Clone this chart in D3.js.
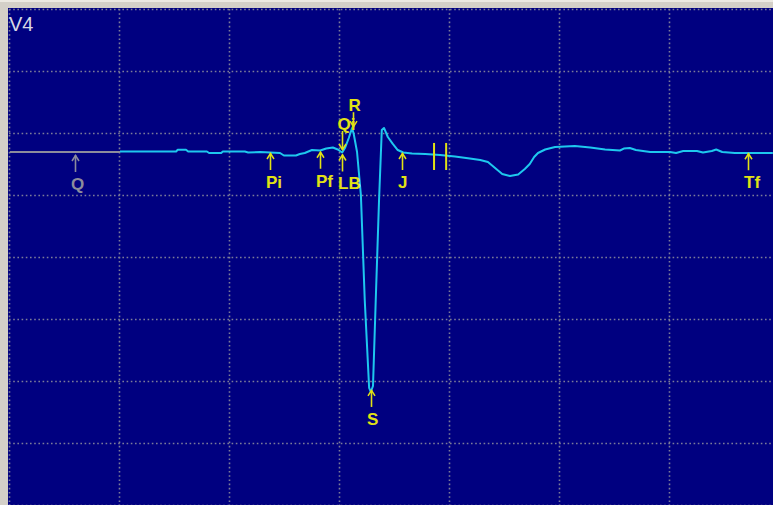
<!DOCTYPE html>
<html><head><meta charset="utf-8">
<script src="https://cdn.jsdelivr.net/npm/d3@7/dist/d3.min.js"></script>
<style>html,body{margin:0;padding:0;background:#d4d0c8;overflow:hidden}</style>
</head><body>
<svg id="chart" width="773" height="505"></svg>
<script>
// ---- data (time in ms, amplitude in mV) ----
const leadName = "V4";
const timeMs = [0,200,200,302,305,320,324,358,362,384,387,427,433,455,491,498,520,527,536,549,564,575,587,596,604,609,616,622,625,631,638,645,653,656,660,665,671,676,680,687,696,705,715,731,755,782,809,836,855,869,882,895,909,924,936,945,953,960,973,991,1009,1027,1055,1082,1109,1116,1127,1138,1164,1200,1211,1224,1249,1260,1276,1284,1295,1318,1387];
const amplitudeMv = [0,0,0.004,0.004,0.018,0.018,0.004,0.004,-0.008,-0.008,0.004,0.004,-0.004,0,-0.008,-0.028,-0.028,-0.016,-0.008,0.016,0.012,0.028,0.036,0.02,-0.004,0.032,0.113,0.194,0.145,0,-0.347,-1.194,-1.903,-1.935,-1.887,-1.194,-0.387,0.177,0.194,0.121,0.065,0.016,-0.004,-0.012,-0.016,-0.024,-0.036,-0.052,-0.065,-0.081,-0.129,-0.177,-0.194,-0.181,-0.137,-0.097,-0.04,-0.008,0.02,0.04,0.044,0.048,0.036,0.02,0.012,0.028,0.032,0.016,0,0,-0.008,0.008,0.008,-0.004,0.008,0.02,0,-0.008,-0.008];
const greySegmentEndMs = 200;

const markerNames = ["Q","Pi","Pf","LB","J","Tf","S","Qi","R"];
const markerTimes = [118,473,564,604,713,1342,656,604,624];
const markerMv    = [-0.024,-0.008,0.002,-0.02,-0.008,-0.01,-1.919,0.016,0.2];
const markerDir   = ["up","up","up","up","up","up","up","down","down"];

const caliperTimes = [771,793];
const caliperRangeMv = [0.073,-0.145];

const gridStepMs = 200;
const gridStepMv = 0.5;

// ---- drawing ----
const W = 773, H = 505;
const svg = d3.select("#chart");
const x = d3.scaleLinear().domain([0, 1387.3]).range([10, 773]);
const y = d3.scaleLinear().domain([-2.85, 1.15]).range([505.4, 9.4]);

const navy = "#000080", cyan = "#1ec8ee", yellow = "#e2e214", grey = "#8c8c9c", gridCol = "#7c7c98";

svg.append("rect").attr("width", W).attr("height", H).attr("fill", "#d4d0c8");
svg.append("rect").attr("x", 0).attr("y", 0).attr("width", W).attr("height", 2).attr("fill", "#ece9e2");
svg.append("rect").attr("x", 8).attr("y", 8).attr("width", W - 8).attr("height", H - 8).attr("fill", navy);

// grid
const vx = d3.range(0, 1387.3, gridStepMs);
const hy = d3.range(1.15, -2.86, -gridStepMv);
const g = svg.append("g");
g.selectAll(".vg").data(vx).join("line")
  .attr("x1", d => Math.round(x(d)) - 0.5).attr("x2", d => Math.round(x(d)) - 0.5)
  .attr("y1", 9).attr("y2", H)
  .attr("stroke", gridCol).attr("stroke-width", 1.6).attr("stroke-dasharray", "1.6,2.6");
g.selectAll(".hg").data(hy).join("line")
  .attr("y1", d => Math.round(y(d)) + 0.5).attr("y2", d => Math.round(y(d)) + 0.5)
  .attr("x1", 9).attr("x2", W)
  .attr("stroke", gridCol).attr("stroke-width", 1.6).attr("stroke-dasharray", "1.6,2.6");

// trace
const pts = timeMs.map((t, i) => [t, amplitudeMv[i]]);
const line = d3.line().x(d => x(d[0])).y(d => y(d[1]));
svg.append("path").datum(pts.filter(p => p[0] <= greySegmentEndMs).slice(0, 2))
  .attr("d", line).attr("fill", "none").attr("stroke", grey).attr("stroke-width", 1.8);
svg.append("path").datum(pts.slice(2))
  .attr("d", line).attr("fill", "none").attr("stroke", cyan).attr("stroke-width", 2)
  .attr("stroke-linejoin", "round");

// label
svg.append("text").attr("x", 9).attr("y", 31).text(leadName)
  .attr("font-family", "Liberation Sans, Arial, sans-serif").attr("font-size", 20)
  .attr("fill", "#d6d6e4");

// calipers
svg.selectAll(".cal").data(caliperTimes).join("line")
  .attr("x1", d => x(d)).attr("x2", d => x(d))
  .attr("y1", y(caliperRangeMv[0])).attr("y2", y(caliperRangeMv[1]))
  .attr("stroke", yellow).attr("stroke-width", 2);

// markers
const arrowLen = {R: 15, Qi: 19};
markerNames.forEach((name, i) => {
  const col = name === "Q" ? grey : yellow;
  const mx = Math.round(x(markerTimes[i])) + 0.5;
  const ty = y(markerMv[i]);
  const mg = svg.append("g");
  if (markerDir[i] === "up") {
    const L = 17;
    mg.append("line").attr("x1", mx).attr("x2", mx).attr("y1", ty).attr("y2", ty + L)
      .attr("stroke", col).attr("stroke-width", 1.6);
    mg.append("path").attr("d", `M${mx-3.5},${ty+6}L${mx},${ty+0.5}L${mx+3.5},${ty+6}`)
      .attr("fill", "none").attr("stroke", col).attr("stroke-width", 1.5);
    mg.append("text").attr("x", mx - 4.5).attr("y", ty + 35).text(name)
      .attr("font-family", "Liberation Sans, Arial, sans-serif").attr("font-size", 17)
      .attr("font-weight", "bold").attr("fill", col);
  } else {
    const L = arrowLen[name] || 17;
    mg.append("line").attr("x1", mx).attr("x2", mx).attr("y1", ty - L).attr("y2", ty)
      .attr("stroke", col).attr("stroke-width", 1.6);
    mg.append("path").attr("d", `M${mx-3.5},${ty-6}L${mx},${ty-0.5}L${mx+3.5},${ty-6}`)
      .attr("fill", "none").attr("stroke", col).attr("stroke-width", 1.5);
    mg.append("text").attr("x", mx - 5).attr("y", ty - L - 1).text(name)
      .attr("font-family", "Liberation Sans, Arial, sans-serif").attr("font-size", 17)
      .attr("font-weight", "bold").attr("fill", col);
  }
});
</script>
</body></html>
